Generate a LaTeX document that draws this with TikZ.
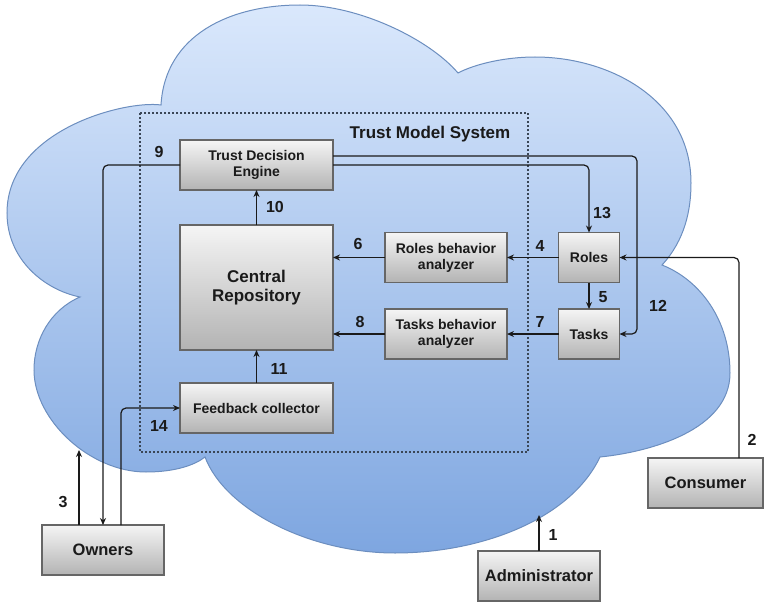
\documentclass[tikz,border=0pt]{standalone}
\usepackage{fontspec}
\setmainfont{Liberation Sans}
\usetikzlibrary{arrows.meta}

\definecolor{cloudtop}{HTML}{DAE8FC}
\definecolor{cloudbot}{HTML}{7EA6E0}
\definecolor{cloudline}{HTML}{6C8EBF}
\definecolor{boxtop}{HTML}{F5F5F5}
\definecolor{boxbot}{HTML}{B3B3B3}
\definecolor{boxline}{HTML}{666666}
\definecolor{ink}{HTML}{1A1A1A}
\definecolor{frameline}{HTML}{3A4656}

\tikzset{
  block/.style={draw=boxline, line width=1.3pt, top color=boxtop, bottom color=boxbot,
    inner sep=0pt, outer sep=0pt, align=center, text=ink,
    font=\bfseries\fontsize{14}{16}\selectfont},
  actor/.style={block, font=\bfseries\fontsize{16.5}{19}\selectfont},
  num/.style={text=ink, inner sep=0pt, font=\bfseries\fontsize{16}{18}\selectfont},
  conn/.style={draw=ink, line width=1.2pt, rounded corners=5pt,
    -{Stealth[length=7pt,width=6pt]}},
}

\begin{document}
\begin{tikzpicture}[x=1pt,y=-1pt]
\useasboundingbox (0,0) rectangle (764,602);

% cloud made of six lobes
\path[draw=cloudline, line width=1pt, top color=cloudtop, bottom color=cloudbot]
  (161,105) .. controls (165,35) and (230,5) .. (300,5)
            .. controls (360,5) and (430,40) .. (458,73)
            .. controls (475,64) and (505,57) .. (535,57)
            .. controls (610,57) and (691,100) .. (691,183)
            .. controls (691,210) and (685,240) .. (662,265)
            .. controls (700,280) and (730,320) .. (730,373)
            .. controls (730,430) and (650,452) .. (600,457)
            .. controls (570,520) and (480,553) .. (395,553)
            .. controls (310,553) and (225,510) .. (205,457)
            .. controls (195,465) and (175,472) .. (146,472)
            .. controls (90,472) and (34,420) .. (34,370)
            .. controls (34,340) and (50,310) .. (80,297)
            .. controls (45,290) and (7,260) .. (7,213)
            .. controls (7,130) and (125,100) .. (161,105) -- cycle;

% system boundary
\draw[frameline, line width=1.2pt, dash pattern=on 2pt off 2pt] (140,113) rectangle (528,452);
\node[text=ink, font=\bfseries\fontsize{17}{20}\selectfont] (title) at (430,134) {Trust Model System};

% blocks
\node[block, minimum width=153pt, minimum height=50pt] (tde) at (256.5,165) {Trust Decision\\Engine};
\node[block, minimum width=153pt, minimum height=125pt,
      font=\bfseries\fontsize{17}{19}\selectfont] (cr) at (256.5,287.5) {Central\\Repository};
\node[block, minimum width=122pt, minimum height=50pt] (rba) at (446,257.5) {Roles behavior\\analyzer};
\node[block, minimum width=122pt, minimum height=50pt] (tba) at (446,334) {Tasks behavior\\analyzer};
\node[block, minimum width=61pt, minimum height=50pt] (roles) at (589,257.5) {Roles};
\node[block, minimum width=61pt, minimum height=50pt] (tasks) at (589,334) {Tasks};
\node[block, minimum width=153pt, minimum height=50pt] (fc) at (256.5,408) {Feedback collector};

% actors
\node[actor, minimum width=122pt, minimum height=50pt] (own) at (103,550) {Owners};
\node[actor, minimum width=122pt, minimum height=50pt] (adm) at (539,576) {Administrator};
\node[actor, minimum width=115pt, minimum height=50pt] (con) at (705.5,483) {Consumer};

% free ends on the cloud border
\coordinate (c1) at (539,515);
\coordinate (c3) at (79,450);

% connectors
\draw[conn] (adm.north) -- (c1);
\draw[conn] ([xshift=33.5pt]con.north) |- (roles.east);
\draw[conn] ([xshift=-24pt]own.north) -- (c3);
\draw[conn] (roles.west) -- (rba.east);
\draw[conn] (roles.south) -- (tasks.north);
\draw[conn] (rba.west) -- (cr.east |- rba.west);
\draw[conn] (tasks.west) -- (tba.east);
\draw[conn] (tba.west) -- (cr.east |- tba.west);
\draw[conn] (tde.west) -| (own.north);
\draw[conn] (cr.north) -- (tde.south);
\draw[conn] (fc.north) -- (cr.south);
\draw[conn] ([yshift=9pt]tde.east) -| ([xshift=17.5pt]tasks.east) -- (tasks.east);
\draw[conn] (tde.east) -| (roles.north);
\draw[conn] ([xshift=18pt]own.north) |- (fc.west);

% step numbers
\node[num] (n1) at (553,535) {1};
\node[num] (n2) at (752,440) {2};
\node[num] (n3) at (63,502) {3};
\node[num] (n4) at (540,246) {4};
\node[num] (n5) at (603,297) {5};
\node[num] (n6) at (358,244) {6};
\node[num] (n7) at (540,322) {7};
\node[num] (n8) at (360,322) {8};
\node[num] (n9) at (159,152) {9};
\node[num] (n10) at (275,207) {10};
\node[num] (n11) at (279,369) {11};
\node[num] (n12) at (658,306) {12};
\node[num] (n13) at (602,213) {13};
\node[num] (n14) at (159,426) {14};
\end{tikzpicture}
\end{document}
